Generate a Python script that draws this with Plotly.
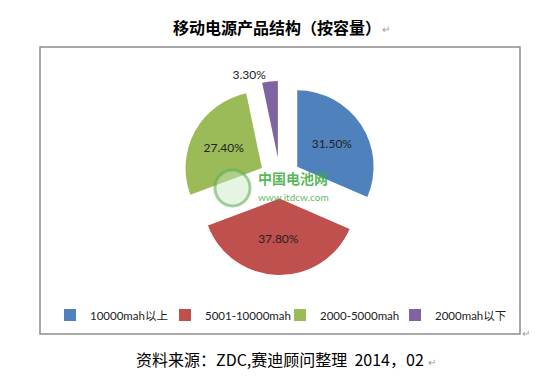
import plotly.graph_objects as go

W, H = 550, 376
OFF = 8  # page body margin shift

categories = ["10000mah以上", "5001-10000mah", "2000-5000mah", "2000mah以下"]
values = [31.5, 37.8, 27.4, 3.3]
slice_labels = ["31.50%", "37.80%", "27.40%", "3.30%"]
colors = ["#4F81BD", "#C0504D", "#9BBB59", "#8064A2"]

title_text = "移动电源产品结构（按容量）"
source_text = "资料来源：ZDC,赛迪顾问整理  2014，02"

FONT = "Lato, 'Noto Sans CJK SC', sans-serif"
CJK = "'Noto Sans CJK SC', sans-serif"

def px(x):
    return (x - OFF) / W

def py(y):
    return 1 - (y - OFF) / H

cx, cy, R = 280, 178, 97

fig = go.Figure()
fig.add_trace(go.Pie(
    labels=categories,
    values=values,
    text=slice_labels,
    textinfo="text",
    textposition=["inside", "inside", "inside", "outside"],
    insidetextorientation="horizontal",
    sort=False,
    direction="clockwise",
    rotation=0,
    pull=[0.27, 0.27, 0.27, 0.27],
    marker=dict(colors=colors, line=dict(width=0)),
    textfont=dict(family=FONT, size=12, color="#222222"),
    outsidetextfont=dict(family=FONT, size=12, color="#222222"),
    domain=dict(x=[px(cx - R), px(cx + R)], y=[py(cy + R), py(cy - R)]),
    hoverinfo="label+percent",
))

shapes = [
    dict(type="rect", xref="paper", yref="paper",
         x0=px(40), x1=px(520), y0=py(334), y1=py(47),
         line=dict(color="#8c8c8c", width=1.5), fillcolor="rgba(0,0,0,0)", layer="below"),
    dict(type="circle", xref="paper", yref="paper",
         x0=px(215), x1=px(250), y0=py(206), y1=py(170),
         line=dict(color="rgba(90,170,80,0.55)", width=3),
         fillcolor="rgba(200,230,190,0.45)", layer="above"),
]

def ann(text, x, y, size, color, family=CJK, xanchor="center"):
    return dict(text=text, x=px(x), y=py(y), xref="paper", yref="paper",
                xanchor=xanchor, yanchor="middle", showarrow=False,
                font=dict(family=family, size=size, color=color))

annotations = [
    ann("<b>" + title_text + "</b>", 277, 27, 16, "#000000"),
    ann("↵", 380, 29, 10, "#999999", xanchor="left"),
    ann(source_text, 280, 359, 16, "#000000"),
    ann("↵", 426, 361, 10, "#999999", xanchor="left"),
    ann("↵", 520, 332, 10, "#999999", xanchor="left"),
    ann("<b>中国电池网</b>", 293, 178, 14, "rgba(60,170,60,0.85)"),
    ann("www.itdcw.com", 293, 197, 10, "rgba(60,170,60,0.85)", family=FONT),
]

fig.update_layout(
    width=W, height=H,
    margin=dict(l=0, r=0, t=0, b=0),
    paper_bgcolor="white",
    plot_bgcolor="white",
    showlegend=True,
    legend=dict(
        orientation="h",
        x=px(50), xanchor="left",
        y=py(315), yanchor="middle",
        font=dict(family=FONT, size=11.5, color="#222222"),
        entrywidth=70, entrywidthmode="pixels",
        itemwidth=30,
        bgcolor="rgba(0,0,0,0)",
    ),
    shapes=shapes,
    annotations=annotations,
)

fig.write_html("out.html")
